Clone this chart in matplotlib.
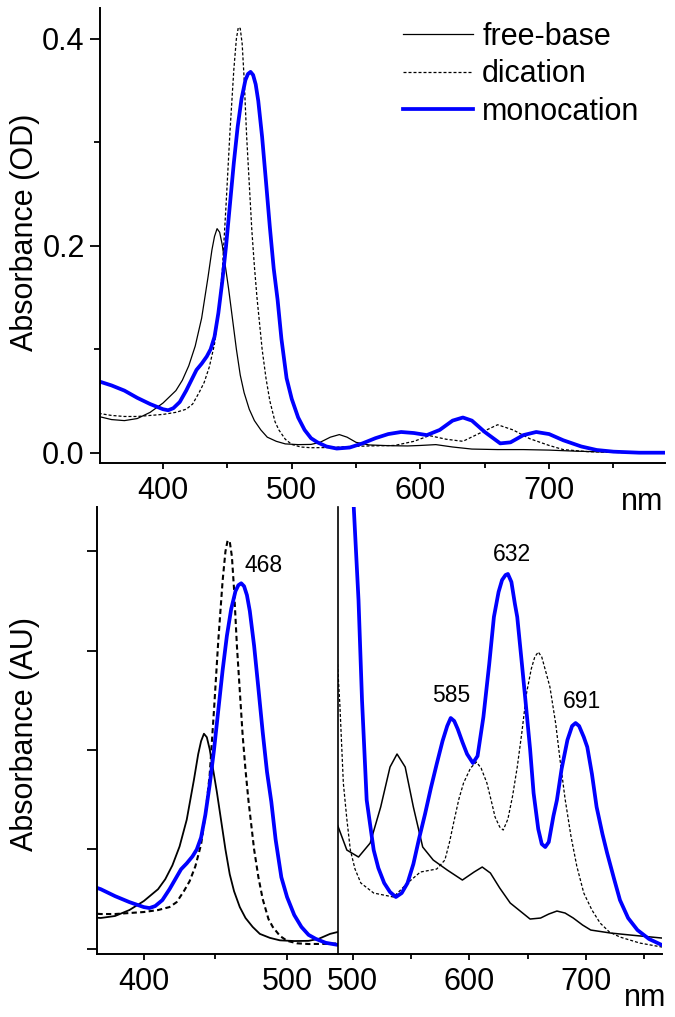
"""
UV-vis spectra: free-base, dication and monocation
"""
import numpy as np
import matplotlib.pyplot as plt
from matplotlib.ticker import MultipleLocator, NullFormatter

plt.rcParams['font.family'] = ['Liberation Sans', 'DejaVu Sans']
plt.rcParams['font.size'] = 22

# =============================================================================
# Full spectra (OD)
# =============================================================================
wl_fb = [350, 360, 370, 380, 390, 400, 410, 415, 420, 425, 430, 435, 438, 440,
         442, 444, 446, 448, 451, 454, 457, 460, 463, 467, 471, 476, 481, 488,
         495, 505, 515, 522, 530, 537, 543, 550, 560, 575, 590, 600, 612, 625,
         640, 660, 680, 700, 720, 740, 760, 790]
fb = [0.035, 0.032, 0.031, 0.033, 0.039, 0.048, 0.060, 0.070, 0.084, 0.103,
      0.130, 0.170, 0.196, 0.209, 0.2165, 0.213, 0.201, 0.184, 0.158, 0.129,
      0.100, 0.075, 0.058, 0.042, 0.031, 0.022, 0.015, 0.011, 0.0085, 0.0078,
      0.0080, 0.010, 0.015, 0.0175, 0.015, 0.010, 0.0075, 0.0068, 0.0065,
      0.007, 0.0078, 0.0055, 0.0035, 0.003, 0.003, 0.0025, 0.0015, 0.0008,
      0.0003, 0.0]

wl_dc = [350, 360, 370, 380, 390, 400, 410, 418, 423, 428, 432, 436, 440, 443,
         446, 449, 452, 455, 457, 458.5, 460, 461.5, 463, 465, 467, 469, 471,
         473, 475, 477, 480, 483, 487, 490, 495, 500, 507, 515, 530, 545, 560,
         580, 595, 607, 620, 633, 648, 660, 672, 685, 700, 711, 730, 760, 790]
dc = [0.038, 0.036, 0.035, 0.035, 0.036, 0.037, 0.039, 0.042, 0.047, 0.058,
      0.068, 0.083, 0.105, 0.135, 0.175, 0.240, 0.310, 0.370, 0.400, 0.411,
      0.410, 0.395, 0.362, 0.305, 0.260, 0.215, 0.180, 0.150, 0.125, 0.100,
      0.072, 0.050, 0.030, 0.022, 0.013, 0.008, 0.0055, 0.0048, 0.005, 0.006,
      0.0065, 0.007, 0.011, 0.0165, 0.013, 0.011, 0.020, 0.027, 0.022, 0.0135,
      0.007, 0.003, 0.001, 0.0, 0.0]

wl_mc = [350, 360, 370, 380, 390, 400, 404, 408, 413, 418, 422, 426, 430, 434,
         437, 440, 443, 446, 449, 452, 455, 458, 461, 464, 466, 468, 470, 472,
         474, 477, 480, 483, 486, 489, 492, 496, 500, 505, 510, 515, 520, 527,
         535, 545, 555, 565, 575, 585, 595, 605, 615, 625, 633, 640, 650, 662,
         670, 680, 690, 700, 711, 725, 737, 750, 770, 790]
mc = [0.069, 0.065, 0.060, 0.053, 0.047, 0.042, 0.041, 0.043, 0.049, 0.060,
      0.070, 0.080, 0.086, 0.093, 0.100, 0.112, 0.135, 0.165, 0.200, 0.240,
      0.280, 0.315, 0.342, 0.360, 0.366, 0.368, 0.365, 0.356, 0.340, 0.305,
      0.262, 0.218, 0.178, 0.148, 0.110, 0.072, 0.052, 0.034, 0.022, 0.014,
      0.010, 0.006, 0.004, 0.005, 0.009, 0.014, 0.018, 0.020, 0.019, 0.017,
      0.022, 0.031, 0.034, 0.031, 0.020, 0.009, 0.010, 0.017, 0.020, 0.018,
      0.012, 0.006, 0.0026, 0.001, 0.0, 0.0]

# =============================================================================
# Q-band region (AU)
# =============================================================================
q_wl_fb = [487, 495, 505, 515, 524, 532, 538, 545, 552, 560, 569, 581, 594,
           604, 611, 618, 626, 635, 652, 661, 668, 675, 682, 689, 697, 704,
           721, 738, 765]
q_fb = [1.29, 1.04, 0.97, 1.11, 1.47, 1.87, 2.00, 1.87, 1.47, 1.07, 0.94,
        0.84, 0.74, 0.82, 0.87, 0.81, 0.66, 0.51, 0.35, 0.36, 0.40, 0.43, 0.41,
        0.36, 0.29, 0.24, 0.21, 0.19, 0.16]

q_wl_dc = [487, 489, 492, 495, 498, 502, 507, 518, 535, 547, 558, 572, 579,
           583, 587, 591, 595, 601, 606, 610, 615, 619, 622, 626, 629, 633,
           637, 641, 645, 649, 653, 656, 659, 662, 666, 669, 674, 678, 682,
           687, 692, 698, 705, 712, 720, 729, 746, 765]
q_dc = [2.90, 2.50, 1.71, 1.35, 1.04, 0.85, 0.71, 0.61, 0.57, 0.71, 0.82,
        0.85, 0.94, 1.12, 1.34, 1.55, 1.71, 1.86, 1.92, 1.86, 1.71, 1.52, 1.37,
        1.27, 1.24, 1.35, 1.58, 1.87, 2.22, 2.61, 2.85, 2.97, 3.02, 2.97, 2.80,
        2.67, 2.30, 1.91, 1.55, 1.18, 0.88, 0.61, 0.44, 0.31, 0.22, 0.17, 0.11,
        0.07]

q_wl_mc = [496, 501, 505, 508, 512, 518, 522, 527, 532, 537, 542, 547, 552,
           557, 562, 567, 572, 577, 581, 584, 587, 590, 594, 598, 603, 607, 612,
           617, 621, 625, 628, 631, 633, 636, 639, 641, 645, 648, 652, 655,
           659, 662, 665, 668, 672, 675, 679, 684, 688, 691, 694, 698, 701, 705,
           709, 714, 718, 724, 729, 736, 744, 754, 765]
q_mc = [6.00, 4.45, 3.54, 2.54, 1.54, 1.04, 0.86, 0.71, 0.62, 0.57, 0.61,
        0.71, 0.90, 1.16, 1.40, 1.66, 1.90, 2.13, 2.28, 2.36, 2.33, 2.25, 2.12,
        2.00, 1.91, 1.98, 2.37, 2.90, 3.37, 3.62, 3.74, 3.79, 3.80, 3.72, 3.50,
        3.37, 2.90, 2.54, 2.05, 1.61, 1.25, 1.10, 1.07, 1.12, 1.38, 1.54, 1.85,
        2.14, 2.28, 2.31, 2.28, 2.17, 2.07, 1.80, 1.47, 1.20, 1.01, 0.75, 0.54,
        0.36, 0.24, 0.15, 0.09]

# peak labels and where their text sits
soret_label = '468'
soret_label_pos = (483.8, 0.386)
q_labels = ['585', '632', '691']
q_label_x = [584.4, 636.7, 696.8]
q_label_y = [2.59, 3.99, 2.53]

BLUE = '#0000ff'

# =============================================================================
# Figure
# =============================================================================
fig = plt.figure(figsize=(6.75, 10.17), dpi=100)
ax_top = fig.add_axes([0.1481, 0.5447, 0.8370, 0.4474])
ax_bl = fig.add_axes([0.1437, 0.0619, 0.3570, 0.4396])
ax_br = fig.add_axes([0.5000, 0.0619, 0.4807, 0.4396])

for ax in (ax_top, ax_bl, ax_br):
    ax.patch.set_visible(False)
    for s in ('top', 'right'):
        ax.spines[s].set_visible(False)
    for s in ('left', 'bottom'):
        ax.spines[s].set_linewidth(1.4)
    ax.tick_params(axis='x', which='major', direction='out', length=4.5, width=1.3, pad=5)
    ax.tick_params(axis='x', which='minor', direction='out', length=3.5, width=1.3)
    ax.tick_params(axis='y', which='major', direction='out', length=7, width=1.3, pad=4)
    ax.tick_params(axis='y', which='minor', direction='out', length=4, width=1.3)
    ax.xaxis.set_major_locator(MultipleLocator(100))
    ax.xaxis.set_minor_locator(MultipleLocator(50))

# ---- top panel ----
ax_top.plot(wl_fb, fb, color='k', lw=0.9, label='free-base')
ax_top.plot(wl_dc, dc, color='k', lw=0.9, dashes=(2.4, 1.6), label='dication')
ax_top.plot(wl_mc, mc, color=BLUE, lw=2.7, label='monocation')
ax_top.set_xlim(351, 790)
ax_top.set_ylim(-0.01, 0.4297)
ax_top.yaxis.set_major_locator(MultipleLocator(0.2))
ax_top.yaxis.set_minor_locator(MultipleLocator(0.1))
ax_top.yaxis.set_major_formatter(plt.FormatStrFormatter('%.1f'))
ax_top.set_ylabel('Absorbance (OD)')
ax_top.yaxis.set_label_coords(-0.106, 0.507)
ax_top.text(0.959, -0.085, 'nm', transform=ax_top.transAxes, ha='center', va='center')
ax_top.legend(loc='upper left', bbox_to_anchor=(0.536, 0.97), frameon=False,
              borderaxespad=0, borderpad=0, handlelength=2.3, handletextpad=0.3,
              labelspacing=0.25)

# ---- bottom left panel (Soret band) ----
ax_bl.plot(wl_fb, fb, color='k', lw=1.3)
ax_bl.plot(wl_dc, dc, color='k', lw=1.5, dashes=(2.5, 1.6))
ax_bl.plot(wl_mc, mc, color=BLUE, lw=2.7)
ax_bl.set_xlim(367.4, 535.5)
ax_bl.set_ylim(-0.0053, 0.4448)
ax_bl.yaxis.set_major_locator(MultipleLocator(0.1))
ax_bl.yaxis.set_major_formatter(NullFormatter())
ax_bl.set_ylabel('Absorbance (AU)')
ax_bl.yaxis.set_label_coords(-0.237, 0.492)
ax_bl.text(soret_label_pos[0], soret_label_pos[1], soret_label, ha='center',
           va='center', fontsize=16.5)

# ---- bottom right panel (Q bands) ----
ax_br.plot(q_wl_fb, q_fb, color='k', lw=1.1)
ax_br.plot(q_wl_dc, q_dc, color='k', lw=0.9, dashes=(2.4, 1.6))
ax_br.plot(q_wl_mc, q_mc, color=BLUE, lw=2.7)
ax_br.set_xlim(487, 765)
ax_br.set_ylim(0, 4.47)
ax_br.set_yticks([])
ax_br.spines['left'].set_linewidth(1.2)
for lab, x, y in zip(q_labels, q_label_x, q_label_y):
    ax_br.text(x, y, lab, ha='center', va='center', fontsize=16.5)
ax_br.text(0.948, -0.099, 'nm', transform=ax_br.transAxes, ha='center', va='center')

plt.savefig('out.png', dpi=100)
